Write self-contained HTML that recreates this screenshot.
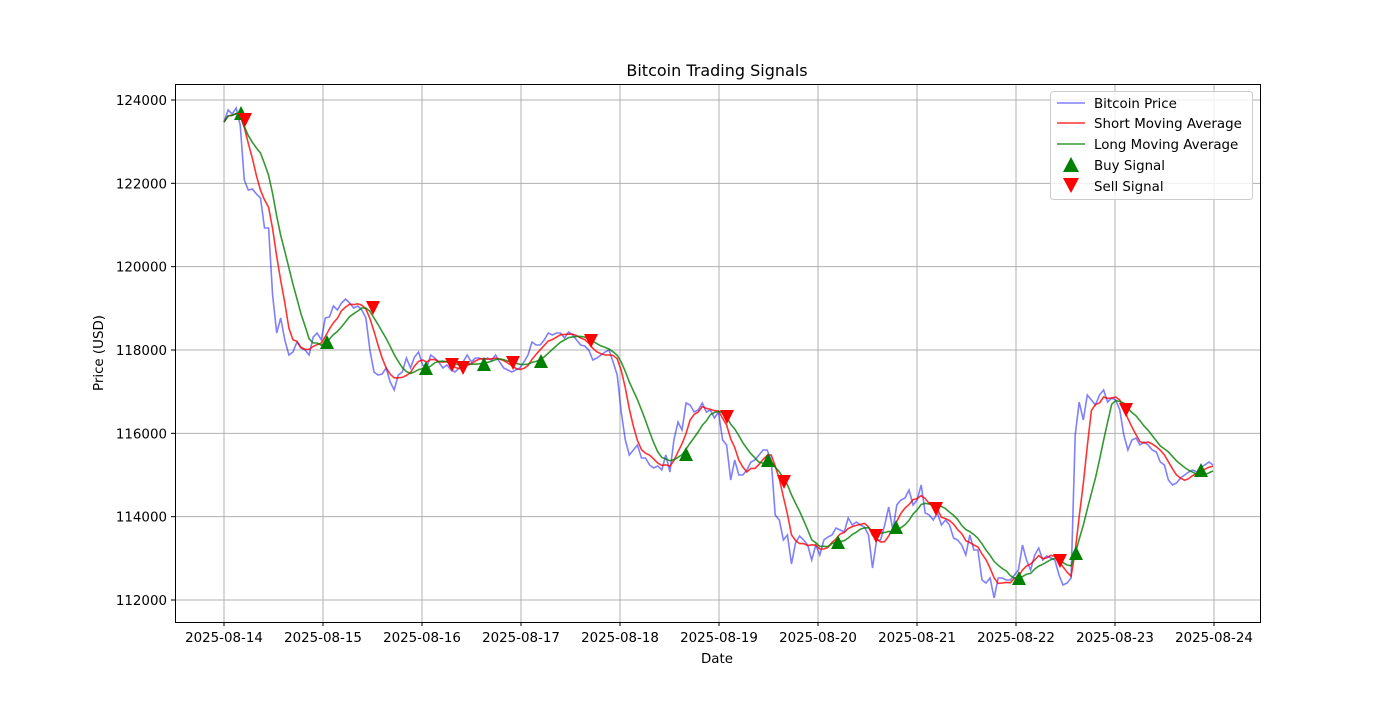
<!DOCTYPE html>
<html><head><meta charset="utf-8"><style>
body{margin:0;background:#fff}
svg text{font-family:"DejaVu Sans","Liberation Sans",sans-serif;font-size:13.4px;fill:#000}
</style></head><body>
<svg id="s" width="1400" height="700" xmlns="http://www.w3.org/2000/svg">
<rect width="1400" height="700" fill="#fff"/>
<g id="grid" stroke="#b0b0b0" stroke-width="1"></g>
<g id="ticks"></g>
<g id="lines" fill="none" stroke-width="1.6"></g>
<g id="marks"></g>
<rect x="175.5" y="84.5" width="1085" height="538" fill="none" stroke="#000" stroke-width="1"/>
<text x="717" y="76" text-anchor="middle" style="font-size:16px">Bitcoin Trading Signals</text>
<text x="717" y="663" text-anchor="middle">Date</text>
<text x="103" y="353" text-anchor="middle" transform="rotate(-90 103 353)">Price (USD)</text>
<g>
<rect x="1050.5" y="91.5" width="202" height="108" rx="3" fill="#fff" fill-opacity="0.8" stroke="#ccc"/>
<line x1="1057" y1="103" x2="1085" y2="103" stroke="#0000ff" stroke-opacity="0.5" stroke-width="1.6"/>
<text x="1094" y="108">Bitcoin Price</text>
<line x1="1057" y1="123" x2="1085" y2="123" stroke="#ff0000" stroke-opacity="0.8" stroke-width="1.6"/>
<text x="1094" y="128">Short Moving Average</text>
<line x1="1057" y1="144" x2="1085" y2="144" stroke="#008000" stroke-opacity="0.8" stroke-width="1.6"/>
<text x="1094" y="149">Long Moving Average</text>
<polygon points="1071,157 1063,172 1079,172" fill="#008000"/>
<text x="1094" y="170">Buy Signal</text>
<polygon points="1063,178 1079,178 1071,193" fill="#ff0000"/>
<text x="1094" y="191">Sell Signal</text>
</g>
</svg>
<script>
const NS="http://www.w3.org/2000/svg";
function el(p,t,a,txt){const e=document.createElementNS(NS,t);for(const k in a)e.setAttribute(k,a[k]);if(txt)e.textContent=txt;document.getElementById(p).appendChild(e);}
const dates=["2025-08-14","2025-08-15","2025-08-16","2025-08-17","2025-08-18","2025-08-19","2025-08-20","2025-08-21","2025-08-22","2025-08-23","2025-08-24"];
dates.forEach((d,i)=>{const x=224+i*99;el("grid","line",{x1:x,y1:85,x2:x,y2:622});el("ticks","line",{x1:x,y1:622,x2:x,y2:626,stroke:"#000"});el("ticks","text",{x:x,y:642,"text-anchor":"middle"},d);});
for(let v=112000;v<=124000;v+=2000){const y=100+(124000-v)*500/12000;el("grid","line",{x1:176,y1:y,x2:1260,y2:y});el("ticks","line",{x1:171,y1:y,x2:175,y2:y,stroke:"#000"});el("ticks","text",{x:167,y:y+5,"text-anchor":"end"},String(v));}
const ys=[122,110,114,108,125,180,190,189,194,198,228,228,295,333,318,340,355,352,342,348,350,355,337,333,340,318,317,306,310,303,299,303,308,306,310,318,350,372,375,374,368,382,390,375,372,358,368,357,352,365,368,355,358,362,368,365,370,372,368,362,355,362,358,358,360,358,360,355,362,368,370,372,370,368,362,355,342,345,345,340,333,335,333,333,338,332,335,340,345,346,350,360,358,355,352,350,362,375,412,440,455,450,445,458,458,465,468,466,470,455,472,440,422,430,403,405,412,410,403,412,410,418,412,440,445,480,460,475,475,470,462,460,455,450,450,460,515,520,540,535,564,543,536,540,545,560,545,555,540,537,535,528,530,532,518,525,522,525,527,535,568,540,540,525,507,530,505,500,498,490,505,500,485,513,515,520,513,525,520,525,538,540,545,555,535,550,550,580,583,578,598,578,578,580,580,575,570,545,560,570,555,548,560,556,558,560,575,585,583,578,435,402,420,395,400,405,395,390,402,398,400,410,435,450,440,438,445,442,445,450,452,462,465,480,485,483,478,475,472,470,472,467,465,462,465];
const n=ys.length;const xs=ys.map((_,i)=>224+i*989/(n-1));
function ma(w){return ys.map((_,i)=>{const a=Math.max(0,i-w+1);let s=0;for(let j=a;j<=i;j++)s+=ys[j];return s/(i-a+1);});}
function path(arr,c,o){el("lines","polyline",{points:arr.map((y,i)=>xs[i].toFixed(1)+","+y.toFixed(1)).join(" "),stroke:c,"stroke-opacity":o});}
path(ys,"#0000ff",0.5);path(ma(5),"#ff0000",0.8);path(ma(10),"#008000",0.8);
[[241,114],[327,343],[426,369],[484,365],[541,362],[686,455],[768,461],[838,543],[896,528],[1019,579],[1076,554],[1201,471]].forEach(([x,y])=>el("marks","polygon",{points:`${x},${y-8} ${x-7},${y+6} ${x+7},${y+6}`,fill:"#008000"}));
[[245,119],[373,307],[452,364],[463,367],[513,362],[591,340],[727,416],[784,481],[876,535],[936,508],[1060,560],[1126,409]].forEach(([x,y])=>el("marks","polygon",{points:`${x-7},${y-6} ${x+7},${y-6} ${x},${y+8}`,fill:"#ff0000"}));
</script>
</body></html>
